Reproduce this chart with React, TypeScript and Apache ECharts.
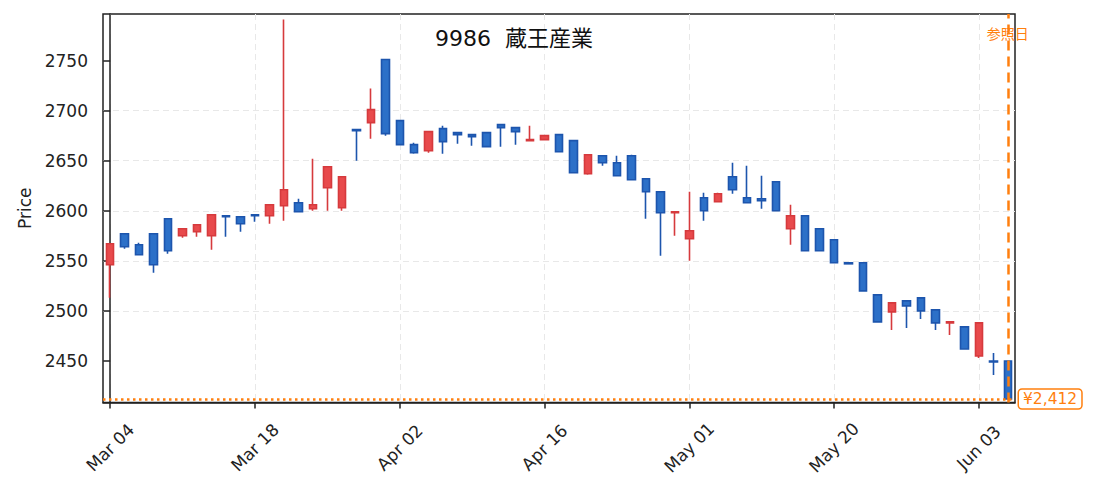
import React, { useEffect, useRef } from "react";
import * as echarts from "echarts";

const chartTitle = "9986  蔵王産業";
const dates = [
  "Mar 04", "Mar 05", "Mar 06", "Mar 07", "Mar 08",
  "Mar 11", "Mar 12", "Mar 13", "Mar 14", "Mar 15",
  "Mar 18", "Mar 19", "Mar 21", "Mar 22",
  "Mar 25", "Mar 26", "Mar 27", "Mar 28", "Mar 29",
  "Apr 01", "Apr 02", "Apr 03", "Apr 04", "Apr 05",
  "Apr 08", "Apr 09", "Apr 10", "Apr 11", "Apr 12",
  "Apr 15", "Apr 16", "Apr 17", "Apr 18", "Apr 19",
  "Apr 22", "Apr 23", "Apr 24", "Apr 25", "Apr 26",
  "Apr 30", "May 01", "May 07", "May 08", "May 09", "May 10",
  "May 13", "May 14", "May 15", "May 16", "May 17",
  "May 20", "May 21", "May 22", "May 23", "May 24",
  "May 27", "May 28", "May 29", "May 30", "May 31",
  "Jun 03", "Jun 04", "Jun 05",
];
const opens = [
  2546, 2577, 2566, 2577, 2592, 2575, 2579, 2575, 2595, 2594,
  2596, 2595, 2605, 2608, 2602, 2623, 2603, 2681, 2688, 2751,
  2690, 2666, 2660, 2682, 2678, 2676, 2678, 2686, 2683, 2670,
  2671, 2676, 2670, 2637, 2655, 2648, 2655, 2632, 2619, 2598,
  2572, 2613, 2609, 2634, 2613, 2612, 2629, 2582, 2595, 2582,
  2571, 2548, 2548, 2516, 2499, 2510, 2513, 2501, 2488, 2484,
  2455, 2450, 2450,
];
const closes = [
  2567, 2564, 2556, 2546, 2560, 2582, 2586, 2596, 2594, 2587,
  2595, 2606, 2621, 2599, 2606, 2644, 2634, 2680, 2701, 2677,
  2666, 2658, 2679, 2669, 2676, 2674, 2664, 2683, 2679, 2671,
  2675, 2659, 2638, 2656, 2648, 2635, 2631, 2619, 2598, 2599,
  2580, 2600, 2617, 2621, 2608, 2610, 2600, 2595, 2560, 2560,
  2548, 2547, 2520, 2489, 2508, 2505, 2500, 2488, 2489, 2462,
  2488, 2449, 2412,
];
const lows = [
  2513, 2562, 2556, 2538, 2557, 2573, 2574, 2561, 2574, 2579,
  2589, 2587, 2590, 2599, 2600, 2600, 2600, 2650, 2672, 2675,
  2666, 2657, 2658, 2657, 2667, 2665, 2664, 2664, 2666, 2670,
  2671, 2659, 2638, 2636, 2645, 2635, 2631, 2592, 2555, 2575,
  2550, 2590, 2609, 2617, 2608, 2602, 2600, 2566, 2560, 2560,
  2548, 2547, 2520, 2489, 2481, 2483, 2492, 2481, 2476, 2462,
  2453, 2436, 2412,
];
const highs = [
  2567, 2577, 2568, 2577, 2592, 2582, 2586, 2596, 2595, 2594,
  2596, 2606, 2791, 2612, 2652, 2644, 2634, 2681, 2722, 2751,
  2690, 2668, 2679, 2685, 2678, 2676, 2678, 2687, 2683, 2685,
  2675, 2676, 2670, 2656, 2655, 2655, 2656, 2632, 2619, 2599,
  2619, 2618, 2618, 2648, 2645, 2635, 2629, 2606, 2595, 2582,
  2571, 2548, 2548, 2516, 2508, 2510, 2513, 2501, 2489, 2484,
  2488, 2458, 2450,
];
const yTicks = [2450, 2500, 2550, 2600, 2650, 2700, 2750];
const refIndex = 62;
const refPrice = 2412;
const refLabel = "参照日";

const FONT = "'DejaVu Sans', 'Noto Sans CJK JP', sans-serif";
const ORANGE = "#ff7f0e";
const INK = "#222222";

export default function App() {
  const ref = useRef<HTMLDivElement>(null);
  useEffect(() => {
    if (!ref.current) return;
    const chart = echarts.init(ref.current, null, { renderer: "svg" });
    const data = dates.map((_, i) => [opens[i], closes[i], lows[i], highs[i]]);
    const axisLineStyle = { color: INK, width: 1.5 };
    chart.setOption({
      animation: false,
      backgroundColor: "#ffffff",
      textStyle: { fontFamily: FONT },
      title: {
        text: chartTitle,
        left: 430,
        top: 22,
        textStyle: { fontSize: 22, fontWeight: "normal", color: "#111111", fontFamily: FONT },
      },
      grid: {
        left: 103,
        right: 78,
        top: 14,
        bottom: 88.5,
        show: true,
        borderColor: INK,
        borderWidth: 1.5,
        backgroundColor: "transparent",
        containLabel: false,
      },
      xAxis: [
        {
          type: "category",
          data: dates,
          boundaryGap: true,
          axisLine: { show: true, lineStyle: axisLineStyle },
          axisTick: { show: true, interval: 9, alignWithLabel: true, length: 6, lineStyle: axisLineStyle },
          axisLabel: {
            interval: 9,
            rotate: 45,
            align: "center",
            verticalAlign: "middle",
            margin: 45,
            fontSize: 17,
            color: INK,
            fontFamily: FONT,
          },
          splitLine: { show: false },
        },
        {
          type: "value",
          min: -0.5,
          max: dates.length - 0.5,
          minInterval: 10,
          maxInterval: 10,
          position: "bottom",
          axisLine: { show: false },
          axisTick: { show: false },
          axisLabel: { show: false },
          splitLine: {
            show: true,
            showMinLine: false,
            showMaxLine: false,
            lineStyle: { type: [6, 4], color: "#e8e8e8", width: 1 },
          },
        },
      ],
      yAxis: {
        type: "value",
        min: 2408.5,
        max: 2796.5,
        splitNumber: 8,
        minInterval: 50,
        maxInterval: 50,
        name: "Price",
        nameLocation: "middle",
        nameRotate: 90,
        nameGap: 68,
        nameTextStyle: { fontSize: 17, color: INK, fontFamily: FONT },
        axisLine: { show: true, lineStyle: axisLineStyle },
        axisTick: { show: true, length: 7, customValues: yTicks, lineStyle: axisLineStyle },
        axisLabel: {
          customValues: yTicks,
          formatter: (v: number) => String(v),
          fontSize: 17,
          color: INK,
          margin: 15,
          fontFamily: FONT,
        },
        splitLine: {
          show: true,
          showMinLine: false,
          showMaxLine: false,
          lineStyle: { type: [6, 4], color: "#e8e8e8", width: 1 },
        },
      },
      series: [
        {
          type: "candlestick",
          xAxisIndex: 0,
          yAxisIndex: 0,
          data,
          barWidth: 8,
          itemStyle: {
            color: "#e84a4c",
            color0: "#2c70c8",
            borderColor: "#d63a3d",
            borderColor0: "#1d55ad",
            borderWidth: 1.6,
          },
          markLine: {
            silent: true,
            symbol: ["none", "none"],
            animation: false,
            data: [
              {
                xAxis: dates[refIndex],
                lineStyle: { color: ORANGE, type: [10, 6], width: 2.5 },
                label: { show: false },
              },
              {
                yAxis: refPrice,
                lineStyle: { color: ORANGE, type: [2.5, 3.5], width: 2.5 },
                label: {
                  show: true,
                  position: "end",
                  distance: 4,
                  formatter: "¥" + refPrice.toLocaleString("en-US"),
                  color: ORANGE,
                  fontSize: 15.5,
                  fontFamily: FONT,
                  backgroundColor: "#ffffff",
                  borderColor: ORANGE,
                  borderWidth: 1.5,
                  borderRadius: 3,
                  padding: [2, 4, 1, 4],
                },
              },
            ],
          },
          markPoint: {
            silent: true,
            symbol: "circle",
            symbolSize: 0,
            animation: false,
            data: [
              {
                coord: [dates[refIndex], 2777],
                label: {
                  show: true,
                  position: "inside",
                  formatter: refLabel,
                  color: ORANGE,
                  fontSize: 14,
                  fontFamily: FONT,
                },
              },
            ],
          },
        },
      ],
    });
    return () => chart.dispose();
  }, []);
  return (
    <div
      ref={ref}
      style={{ position: "fixed", left: 0, top: 0, width: 1093, height: 491, background: "#fff" }}
    />
  );
}
